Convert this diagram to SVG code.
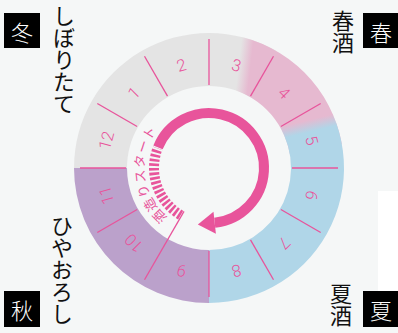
<svg xmlns="http://www.w3.org/2000/svg" width="398" height="333" viewBox="0 0 398 333">
<defs>
<style>
.num{font-family:Roboto,"Liberation Sans",sans-serif;font-weight:300;font-size:16.5px;fill:#e8549b;text-anchor:middle;dominant-baseline:central}
.div{stroke:#e8549b;stroke-width:1.3;fill:none}
.box{fill:#000}
.season{font-family:"Noto Sans CJK JP",sans-serif;font-weight:200;font-size:22px;fill:#fff;text-anchor:middle;dominant-baseline:central}
.vert{font-family:"Noto Sans CJK JP",sans-serif;font-size:22px;fill:#111;writing-mode:vertical-rl;text-orientation:upright}
</style>
<linearGradient id="gp" gradientUnits="userSpaceOnUse" x1="238.5" y1="65.8" x2="250.5" y2="67.2">
<stop offset="0" stop-color="#e6b9d0" stop-opacity="0"/>
<stop offset="1" stop-color="#e6b9d0" stop-opacity="1"/>
</linearGradient>
<linearGradient id="pb" gradientUnits="userSpaceOnUse" x1="307.6" y1="120.2" x2="310.4" y2="131.8">
<stop offset="0" stop-color="#b0d6e8" stop-opacity="0"/>
<stop offset="1" stop-color="#b0d6e8" stop-opacity="1"/>
</linearGradient>
<path id="tp" d="M176.75,223.86 A64.5,64.5 0 0 1 176.75,112.14"/>
</defs>
<rect width="398" height="333" fill="#f5f7f7"/>
<rect x="378" y="191" width="20" height="100" fill="#ffffff"/>

<g id="ring">
<path d="M74,168 A135,135 0 0 1 276.5,51.1 L250,97 A82,82 0 0 0 127,168 Z" fill="#e4e4e4"/>
<path d="M232.44,35.05 A135,135 0 0 1 341.95,144.56 L289.75,153.76 A82,82 0 0 0 223.24,87.25 Z" fill="url(#gp)"/>
<path d="M312.42,81.22 A135,135 0 0 1 209,303 L209,250 A82,82 0 0 0 271.82,115.29 Z" fill="url(#pb)"/>
<path d="M209,303 A135,135 0 0 1 74,168 L127,168 A82,82 0 0 0 209,250 Z" fill="#bba1cb"/>
</g>

<g id="connectors">
<line class="div" x1="292" y1="168" x2="338" y2="168"/>
<line class="div" x1="280.88" y1="209.5" x2="320.71" y2="232.5"/>
<line class="div" x1="250.5" y1="239.88" x2="273.5" y2="279.71"/>
<line class="div" x1="209" y1="251" x2="209" y2="297"/>
<line class="div" x1="184" y1="211.3" x2="144.5" y2="279.71"/>
<line class="div" x1="137.12" y1="209.5" x2="97.29" y2="232.5"/>
<line class="div" x1="126" y1="168" x2="80" y2="168"/>
<line class="div" x1="137.12" y1="126.5" x2="97.29" y2="103.5"/>
<line class="div" x1="167.5" y1="96.12" x2="144.5" y2="56.29"/>
<line class="div" x1="209" y1="85" x2="209" y2="39"/>
<line class="div" x1="250.5" y1="96.12" x2="273.5" y2="56.29"/>
<line class="div" x1="280.88" y1="126.5" x2="320.71" y2="103.5"/>
</g>

<g id="months">
<text class="num" transform="translate(311.39,195.43) rotate(105)">6</text>
<text class="num" transform="translate(283.95,242.95) rotate(135)">7</text>
<text class="num" transform="translate(236.43,270.39) rotate(165)">8</text>
<text class="num" transform="translate(181.57,270.39) rotate(195)">9</text>
<text class="num" transform="translate(134.05,242.95) rotate(225)">10</text>
<text class="num" transform="translate(106.61,195.43) rotate(255)">11</text>
<text class="num" transform="translate(106.61,140.57) rotate(285)">12</text>
<text class="num" transform="translate(134.05,93.05) rotate(315)">1</text>
<text class="num" transform="translate(181.57,65.61) rotate(345)">2</text>
<text class="num" transform="translate(236.43,65.61) rotate(15)">3</text>
<text class="num" transform="translate(283.95,93.05) rotate(45)">4</text>
<text class="num" transform="translate(311.39,140.57) rotate(75)">5</text>
</g>

<g id="cycle-arrow">
<path d="M180.67,215.14 A55,55 0 0 1 157.65,148.29" fill="none" stroke="#e8549b" stroke-width="10" stroke-dasharray="2.6 1.9"/>
<path d="M158,147.4 A55,55 0 1 1 214.75,222.7" fill="none" stroke="#e8549b" stroke-width="10"/>
<polygon points="197.85,224.48 213.5,211.76 215.9,233.64" fill="#e8549b"/>
<text font-family="'Noto Sans CJK JP',sans-serif" font-size="13" letter-spacing="1" fill="#e8549b"><textPath href="#tp" startOffset="11">酒造りスタート</textPath></text>
</g>

<g id="winter">
<rect class="box" x="4" y="13" width="36" height="35"/>
<text class="season" x="22" y="30.5">冬</text>
<text class="vert" x="64" y="5">しぼりたて</text>
</g>
<g id="spring">
<rect class="box" x="363" y="13" width="36" height="35"/>
<text class="season" x="381" y="30.5">春</text>
<text class="vert" x="343" y="10">春酒</text>
</g>
<g id="autumn">
<rect class="box" x="4" y="291" width="36" height="36"/>
<text class="season" x="22" y="309">秋</text>
<text class="vert" x="62" y="215">ひやおろし</text>
</g>
<g id="summer">
<rect class="box" x="363" y="291" width="36" height="36"/>
<text class="season" x="381" y="309">夏</text>
<text class="vert" x="341" y="283">夏酒</text>
</g>
</svg>
